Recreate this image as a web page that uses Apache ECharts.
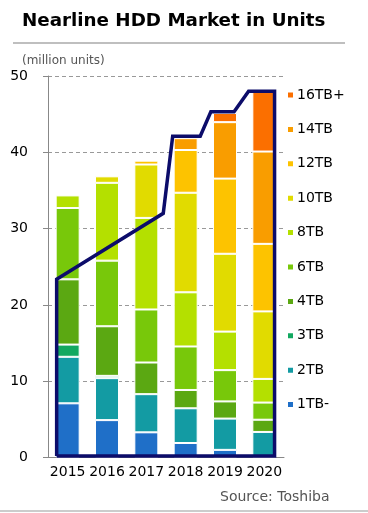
<!DOCTYPE html>
<html><head><meta charset="utf-8">
<script src="https://cdn.jsdelivr.net/npm/echarts@6/dist/echarts.min.js"></script>
<style>html,body{margin:0;padding:0;background:#fff}#c{width:368px;height:513px}</style>
</head><body><div id="c"></div>
<script>
const years = ['2015','2016','2017','2018','2019','2020'];
const seriesNames = ['1TB-','2TB','3TB','4TB','6TB','8TB','10TB','12TB','14TB','16TB+'];
const v1TB  = [7.1, 4.9, 3.3, 1.9, 1.0, 0];
const v2TB  = [6.1, 5.5, 5.0, 4.55, 4.1, 3.35];
const v3TB  = [1.6, 0.3, 0, 0, 0, 0];
const v4TB  = [8.55, 6.5, 4.15, 2.4, 2.25, 1.6];
const v6TB  = [9.35, 8.6, 6.95, 5.7, 4.1, 2.25];
const v8TB  = [1.65, 10.2, 12.0, 7.1, 5.05, 3.1];
const v10TB = [0, 0.85, 7.0, 13.05, 10.2, 8.85];
const v12TB = [0, 0, 0.5, 5.6, 9.85, 8.85];
const v14TB = [0, 0, 0, 1.55, 7.4, 12.1];
const v16TB = [0, 0, 0, 0, 1.2, 7.8];
const yTicks = [0, 10, 20, 30, 40, 50];
// outline (x in category units, 0..6; y in million units)
const outlineX = [0.22, 0.22, 2.93, 3.17, 3.87, 4.14, 4.73, 5.1, 5.76, 5.76, 0.22];
const outlineY = [0.2, 23.35, 32.0, 42.1, 42.1, 45.3, 45.3, 48.0, 48.0, 0.2, 0.2];

const values = [v1TB, v2TB, v3TB, v4TB, v6TB, v8TB, v10TB, v12TB, v14TB, v16TB];
const colors = ['#1f6fc8','#139ba3','#12a860','#5ba812','#78c80a','#b4e000','#e1db00','#fdc300','#f99d00','#fb6f00'];
const FONT = 'DejaVu Sans';

const chart = echarts.init(document.getElementById('c'), null, {renderer:'canvas'});
const series = values.map((arr, i) => ({
  name: seriesNames[i], type: 'bar', stack: 'all', barWidth: 24,
  data: arr.map(v => v === 0 ? '-' : v),
  itemStyle: {color: colors[i], borderColor: '#fff', borderWidth: 1},
  emphasis: {disabled: true}
}));
series.push({
  type: 'line', xAxisIndex: 1, yAxisIndex: 0, symbol: 'none', silent: true,
  data: outlineX.map((x, i) => [x, outlineY[i]]),
  lineStyle: {color: '#0c0c6a', width: 3.5, join: 'miter'}, z: 10
});

chart.setOption({
  animation: false,
  textStyle: {fontFamily: FONT},
  title: {text: 'Nearline HDD Market in Units', left: 22, top: 12, padding: 0,
    textStyle: {fontFamily: FONT, fontWeight: 'bold', fontSize: 18.3, color: '#000'}},
  graphic: [
    {type: 'line', shape: {x1: 13, y1: 43, x2: 345, y2: 43}, style: {stroke: '#aaa', lineWidth: 1.5}},
    {type: 'line', shape: {x1: 0, y1: 511, x2: 368, y2: 511}, style: {stroke: '#bbb', lineWidth: 1.5}},
    {type: 'text', left: 22, top: 55, style: {text: '(million units)', fill: '#555', font: '12px "DejaVu Sans"'}},
    {type: 'text', left: 220, top: 490, style: {text: 'Source: Toshiba', fill: '#555', font: '14px "DejaVu Sans"'}}
  ],
  legend: {
    orient: 'vertical', left: 281, top: 83,
    data: seriesNames.slice().reverse(),
    itemWidth: 7, itemHeight: 7, itemGap: 20.4, icon: 'rect',
    textStyle: {fontFamily: FONT, fontSize: 14, color: '#000', lineHeight: 14, padding: [0,0,0,-2]},
    selectedMode: false
  },
  grid: {left: 48, right: 84, top: 76, bottom: 55.5},
  xAxis: [
    {type: 'category', data: years,
      axisLine: {lineStyle: {color: '#888'}},
      axisTick: {length: 4, lineStyle: {color: '#888'}},
      axisLabel: {fontFamily: FONT, fontSize: 14, color: '#000', margin: 8, interval: 0, hideOverlap: false}},
    {type: 'value', min: 0, max: 6, show: false}
  ],
  yAxis: {type: 'value', min: yTicks[0], max: yTicks[yTicks.length-1], interval: 10,
    axisLine: {show: true, lineStyle: {color: '#888'}},
    axisTick: {show: true, length: 5, lineStyle: {color: '#888'}},
    axisLabel: {fontFamily: FONT, fontSize: 14, color: '#000', margin: 20},
    splitLine: {lineStyle: {color: '#999', type: [4, 3]}}},
  series: series
});
</script></body></html>
